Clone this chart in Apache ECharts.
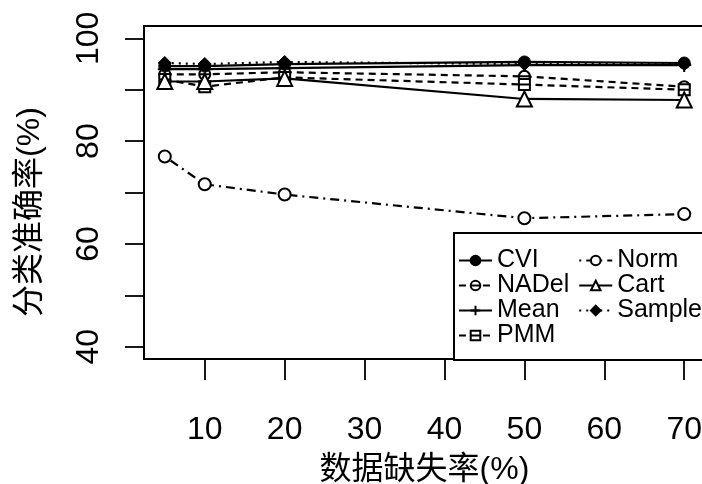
<!DOCTYPE html>
<html><head><meta charset="utf-8">
<script src="https://cdn.jsdelivr.net/npm/echarts@6/dist/echarts.min.js"></script>
<style>html,body{margin:0;padding:0;background:#fff}#c{width:702px;height:484px}</style>
</head><body><div id="c"></div>
<script>
const missingRates = [5, 10, 20, 50, 70];
const cvi    = [94.6, 94.6, 95.0, 95.4, 95.2];
const nadel  = [93.0, 93.0, 93.4, 92.6, 90.6];
const mean   = [94.0, 94.0, 94.2, 94.8, 94.8];
const pmm    = [92.0, 90.6, 92.4, 91.0, 90.0];
const norm   = [77.0, 71.6, 69.6, 65.0, 65.8];
const cart   = [91.6, 91.6, 92.2, 88.2, 88.0];
const sample = [95.2, 95.0, 95.4, 95.0, 95.0];
const xTicks = [10, 20, 30, 40, 50, 60, 70];
const yTicks = [40, 50, 60, 70, 80, 90, 100];
const yLabels = [40, 60, 80, 100];
const xTitle = '数据缺失率(%)';
const yTitle = '分类准确率(%)';

const FONT = '"Liberation Sans", Arial, "Noto Sans CJK SC", sans-serif';
const pair = arr => missingRates.map((x, i) => [x, arr[i]]);

const SYM = {
  circleBar: 'path://M0,5 A5,5 0 1,1 10,5 A5,5 0 1,1 0,5 Z M0.5,5 L9.5,5',
  plus: 'path://M0,5 L10,5 M5,0 L5,10',
  squareBar: 'path://M0,0 L10,0 L10,10 L0,10 Z M0,5 L10,5'
};

function mk(name, data, dash, symbol, size, filled, z) {
  return {
    name, type: 'line', data: pair(data), z: z,
    symbol, symbolSize: size, showSymbol: true,
    lineStyle: { color: '#000', width: 2.2, type: dash },
    itemStyle: filled
      ? { color: '#000', borderColor: '#000', borderWidth: 1 }
      : { color: '#fff', borderColor: '#000', borderWidth: 2 },
    emphasis: { disabled: true },
    animation: false
  };
}

const chart = echarts.init(document.getElementById('c'), null, { renderer: 'canvas' });
chart.setOption({
  backgroundColor: '#fff',
  animation: false,
  grid: { left: 144, top: 26, width: 561, height: 333, show: true, borderColor: '#000', borderWidth: 2, backgroundColor: 'transparent', containLabel: false, outerBoundsMode: 'none' },
  xAxis: {
    type: 'value', min: 2.4, max: 72.6,
    name: xTitle, nameLocation: 'middle', nameGap: 95,
    nameTextStyle: { fontSize: 32, color: '#000', fontFamily: FONT },
    axisLine: { show: true, lineStyle: { color: '#000', width: 2 } },
    axisTick: { show: true, inside: false, length: 21, customValues: xTicks, lineStyle: { color: '#000', width: 1.8 } },
    axisLabel: { show: true, customValues: xTicks, margin: 55, fontSize: 32, color: '#000', fontFamily: FONT },
    splitLine: { show: false }
  },
  yAxis: {
    type: 'value', min: 37.6, max: 102.4,
    axisLine: { show: true, lineStyle: { color: '#000', width: 2 } },
    axisTick: { show: true, inside: false, length: 19, customValues: yTicks, lineStyle: { color: '#000', width: 1.8 } },
    axisLabel: { show: true, customValues: yLabels, rotate: 90, margin: 39, fontSize: 32, color: '#000', fontFamily: FONT },
    splitLine: { show: false }
  },
  legend: {
    orient: 'vertical', left: 454, top: 233, height: 101,
    padding: [15, 30, 12, 4],
    itemWidth: 33, itemHeight: 12, itemGap: 0,
    borderColor: '#000', borderWidth: 2, backgroundColor: '#fff',
    selectedMode: false,
    textStyle: { fontSize: 25, color: '#000', fontFamily: FONT, lineHeight: 25, padding: [0, 9, 0, 0] },
    data: ['CVI', 'NADel', 'Mean', 'PMM', 'Norm', 'Cart', 'Sample']
  },
  graphic: [{
    type: 'text', x: 30, y: 212, rotation: Math.PI / 2,
    style: { text: yTitle, font: '32px ' + FONT, fill: '#000', align: 'center', verticalAlign: 'middle' }
  }],
  series: [
    mk('CVI', cvi, 'solid', 'circle', 12, true, 3),
    mk('NADel', nadel, [7, 5], SYM.circleBar, 11, false, 2),
    mk('Mean', mean, 'solid', SYM.plus, 14, false, 2),
    mk('PMM', pmm, [7, 5], SYM.squareBar, 11, false, 2),
    mk('Norm', norm, [2, 5, 9, 5], 'circle', 12, false, 2),
    mk('Cart', cart, 'solid', 'triangle', 15, false, 2),
    mk('Sample', sample, [2, 5], 'diamond', 13, true, 4)
  ]
});
</script>
</body></html>
